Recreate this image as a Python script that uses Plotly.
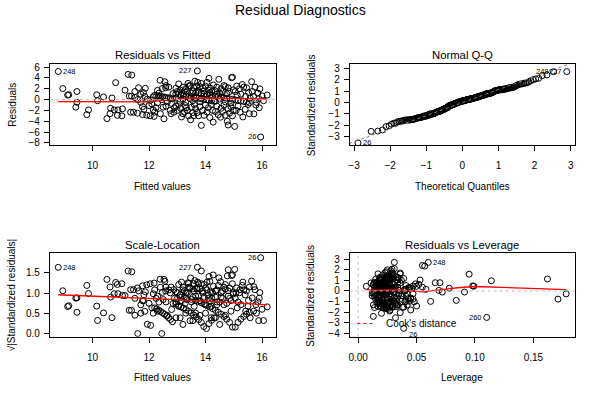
import math
import statistics
import plotly.graph_objects as go

# ---------------- data (case order 1..260) ----------------
fitted = [
    8.95, 9.12, 9.16, 9.45, 9.45, 9.41, 9.80, 9.86, 10.15, 10.18,
    10.39, 10.51, 10.64, 10.62, 10.69, 10.82, 10.77, 10.90, 10.88, 11.04,
    11.15, 11.26, 11.39, 11.30, 11.38, 15.95, 11.50, 11.63, 11.35, 11.45,
    11.59, 11.50, 11.71, 11.80, 11.87, 11.71, 11.77, 11.82, 11.77, 11.92,
    12.04, 12.18, 11.94, 11.06, 11.60, 11.85, 12.06, 12.00, 12.10, 12.15,
    12.20, 12.25, 12.30, 12.39, 12.47, 12.56, 12.59, 12.53, 12.35, 12.45,
    12.50, 12.60, 12.65, 12.70, 12.75, 12.80, 12.85, 12.88, 12.60, 12.40,
    12.90, 12.78, 12.30, 12.15, 12.20, 12.27, 12.34, 12.41, 12.48, 12.55,
    12.62, 12.69, 12.76, 12.83, 12.95, 13.04, 13.13, 13.22, 13.31, 13.40,
    13.49, 13.58, 12.95, 13.00, 13.05, 13.10, 13.15, 13.20, 13.25, 13.30,
    13.35, 13.38, 13.42, 13.45, 13.50, 13.55, 13.58, 12.95, 13.10, 13.20,
    13.30, 13.45, 13.55, 12.95, 13.00, 13.05, 13.12, 13.20, 13.28, 13.35,
    13.40, 13.47, 13.50, 13.55, 13.60, 13.32, 13.15, 13.58, 13.25, 13.67,
    13.76, 13.85, 13.94, 14.03, 14.12, 14.21, 14.30, 13.65, 13.75, 13.85,
    13.95, 14.05, 14.15, 14.25, 13.62, 13.72, 13.68, 13.80, 13.85, 13.90,
    13.95, 14.00, 14.05, 14.10, 14.12, 14.18, 14.22, 14.28, 13.75, 14.15,
    13.65, 13.80, 14.00, 14.20, 13.65, 13.70, 13.75, 13.85, 13.80, 13.90,
    13.95, 14.00, 14.05, 14.10, 14.15, 14.20, 14.27, 14.25, 14.35, 14.45,
    14.55, 14.65, 14.75, 14.85, 14.95, 14.35, 14.40, 14.47, 14.50, 14.55,
    14.60, 14.65, 14.70, 14.75, 14.80, 14.85, 14.92, 14.95, 14.98, 14.40,
    14.35, 14.50, 14.70, 14.90, 14.35, 14.40, 14.45, 14.53, 14.55, 14.60,
    14.65, 14.70, 14.77, 14.80, 14.85, 14.90, 14.95, 14.98, 15.05, 15.15,
    15.25, 15.35, 15.45, 15.55, 15.03, 15.05, 13.71, 15.10, 15.12, 15.15,
    15.20, 15.22, 15.25, 15.30, 15.32, 15.35, 15.40, 15.42, 15.45, 15.50,
    15.52, 15.55, 15.58, 15.08, 15.63, 15.65, 15.70, 8.79, 15.71, 15.75,
    15.80, 15.85, 15.88, 15.90, 16.00, 16.05, 16.18, 15.78, 15.92, 14.80,
]

residuals = [
    2.05, 0.85, 0.90, 1.50, -0.50, -1.40, -2.76, -1.90, 0.90, -0.20,
    0.50, -3.50, -1.60, -2.60, 0.30, 3.14, -1.90, -1.90, -2.90, -3.00,
    1.74, 4.66, 4.54, 0.65, 0.65, -6.90, 1.50, 2.20, -2.33, -2.33,
    -2.50, 0.40, 1.00, 1.30, 2.10, -0.50, -1.30, -1.80, -2.76, -2.88,
    -3.00, -3.10, 0.10, -1.70, 0.00, 0.60, -0.08, -1.10, -0.80, -1.90,
    -2.30, -1.50, -0.60, 3.57, 2.05, 3.30, 2.20, -3.55, 1.20, 0.00,
    -1.40, -1.20, -0.40, 2.30, -2.00, -0.70, 1.10, -2.33, 2.60, -2.60,
    -1.50, -2.60, 1.70, 0.50, 0.80, 0.73, 0.66, 0.59, 0.52, 0.45,
    0.38, 0.31, 0.24, 0.17, 1.05, 0.96, 0.87, 0.78, 0.69, 0.60,
    0.51, 0.42, 2.10, 1.50, 2.90, 1.80, 1.30, 2.30, 1.60, 2.00,
    1.40, 3.00, 2.60, 2.50, 1.20, 1.60, 2.20, 0.30, -0.30, 0.10,
    -0.50, 0.20, -0.20, -1.20, -2.00, -0.90, -1.60, -2.60, -1.10, -2.00,
    -3.00, -3.73, -1.40, -2.40, -0.90, -1.50, -3.20, -3.00, -2.20, 0.33,
    0.24, 0.15, 0.06, -0.03, -0.12, -0.21, -0.30, 1.35, 1.25, 1.15,
    1.05, 0.95, 0.85, 0.75, 3.40, 3.20, 2.50, 2.40, 3.00, 2.20,
    1.60, 2.50, 3.20, 1.80, 3.93, 2.10, 1.50, 2.70, 1.70, 1.30,
    0.50, -0.40, 0.50, 0.30, -1.70, -2.40, -3.00, -4.76, -1.30, -2.00,
    -2.90, -1.00, -2.30, -1.50, -3.30, -0.90, -4.16, -2.00, 0.65, 0.55,
    0.45, 0.35, 0.25, 0.15, 0.05, 1.60, 2.30, 3.75, 1.20, 2.00,
    1.50, 2.60, 2.40, 1.10, 2.20, 1.50, 4.05, 4.15, 1.80, 1.00,
    -0.30, 0.10, -0.40, -0.60, -2.20, -1.20, -2.80, -3.25, -1.60, -2.20,
    -1.00, -2.90, -4.00, -1.70, -2.50, -1.30, -3.00, -2.00, -0.05, -0.15,
    -0.25, -0.35, -0.45, -0.55, -4.95, 1.50, 5.30, 2.50, 0.80, -1.20,
    2.00, -2.33, 1.00, 2.80, -3.20, 2.30, -1.80, 0.60, 2.20, -0.90,
    1.30, -2.60, 0.30, -2.00, 3.32, 1.50, 0.60, 5.20, -2.64, 2.30,
    -0.50, 1.20, 0.20, -1.50, 0.70, -0.20, 0.85, -1.00, 2.00, -4.70,
]

leverage = [
    0.162, 0.099, 0.098, 0.070, 0.178, 0.171, 0.050, 0.062, 0.047, 0.091,
    0.078, 0.045, 0.038, 0.042, 0.058, 0.036, 0.044, 0.041, 0.033, 0.029,
    0.026, 0.055, 0.057, 0.034, 0.031, 0.039, 0.024, 0.028, 0.022, 0.019,
    0.032, 0.046, 0.021, 0.018, 0.027, 0.035, 0.025, 0.030, 0.023, 0.017,
    0.020, 0.014, 0.069, 0.084, 0.040, 0.016, 0.022, 0.028, 0.019, 0.033,
    0.026, 0.015, 0.021, 0.024, 0.018, 0.029, 0.020, 0.027, 0.013, 0.023,
    0.017, 0.031, 0.012, 0.025, 0.019, 0.022, 0.016, 0.024, 0.030, 0.013,
    0.021, 0.034, 0.018, 0.028, 0.015, 0.020, 0.025, 0.017, 0.022, 0.019,
    0.027, 0.014, 0.021, 0.018, 0.023, 0.018, 0.007, 0.021, 0.026, 0.015,
    0.029, 0.019, 0.024, 0.011, 0.030, 0.017, 0.022, 0.027, 0.014, 0.033,
    0.020, 0.095, 0.025, 0.018, 0.031, 0.016, 0.023, 0.028, 0.013, 0.021,
    0.035, 0.019, 0.024, 0.017, 0.026, 0.012, 0.029, 0.022, 0.018, 0.040,
    0.038, 0.027, 0.043, 0.020, 0.015, 0.047, 0.024, 0.039, 0.016, 0.021,
    0.016, 0.025, 0.019, 0.028, 0.014, 0.022, 0.031, 0.018, 0.024, 0.013,
    0.027, 0.020, 0.016, 0.032, 0.023, 0.030, 0.019, 0.026, 0.021, 0.015,
    0.034, 0.028, 0.017, 0.022, 0.025, 0.019, 0.036, 0.024, 0.018, 0.029,
    0.044, 0.020, 0.026, 0.041, 0.017, 0.023, 0.030, 0.013, 0.025, 0.019,
    0.027, 0.014, 0.032, 0.021, 0.024, 0.037, 0.020, 0.018, 0.022, 0.017,
    0.026, 0.020, 0.029, 0.023, 0.018, 0.027, 0.019, 0.028, 0.021, 0.033,
    0.016, 0.024, 0.030, 0.019, 0.025, 0.014, 0.029, 0.031, 0.114, 0.023,
    0.018, 0.035, 0.024, 0.042, 0.021, 0.028, 0.019, 0.026, 0.032, 0.017,
    0.022, 0.027, 0.036, 0.020, 0.029, 0.045, 0.024, 0.048, 0.026, 0.021,
    0.030, 0.024, 0.033, 0.027, 0.032, 0.023, 0.031, 0.034, 0.019, 0.028,
    0.037, 0.025, 0.041, 0.029, 0.022, 0.035, 0.031, 0.044, 0.026, 0.038,
    0.049, 0.033, 0.040, 0.027, 0.036, 0.066, 0.043, 0.060, 0.030, 0.039,
    0.047, 0.052, 0.034, 0.045, 0.055, 0.072, 0.050, 0.041, 0.053, 0.110,
]

residual_se = 2.0
n_id = 3

# smoother curves
smooth_rf_x = [8.79, 9.5, 10.5, 11.5, 11.9, 12.4, 12.9, 13.4, 13.9, 14.5, 15.0, 15.5, 16.18]
smooth_rf_y = [-0.38, -0.40, -0.43, -0.45, -0.42, -0.20, 0.10, 0.28, 0.30, 0.22, 0.17, 0.12, 0.12]
smooth_sl_x = [8.79, 10.0, 11.0, 12.0, 13.0, 14.0, 15.0, 16.18]
smooth_sl_y = [0.96, 0.93, 0.90, 0.87, 0.84, 0.80, 0.76, 0.71]
smooth_lv_x = [0.007, 0.015, 0.025, 0.035, 0.045, 0.055, 0.070, 0.085, 0.100, 0.120, 0.150, 0.178]
smooth_lv_y = [0.12, 0.05, 0.08, 0.10, 0.00, -0.08, 0.10, 0.30, 0.42, 0.35, 0.22, 0.13]

# tick values / labels
rf_xticks = [10, 12, 14, 16]
rf_yticks = [-8, -6, -4, -2, 0, 2, 4, 6]
qq_ticks = [-3, -2, -1, 0, 1, 2, 3]
sl_yticks = [0.0, 0.5, 1.0, 1.5]
sl_ylabels = ["0.0", "0.5", "1.0", "1.5"]
lv_xticks = [0.0, 0.05, 0.10, 0.15]
lv_xlabels = ["0.00", "0.05", "0.10", "0.15"]
lv_yticks = [-4, -3, -2, -1, 0, 1, 2, 3]

assert len(fitted) == len(residuals) == len(leverage)
n = len(fitted)

# ---------------- derived quantities ----------------
std_res = [r / (residual_se * math.sqrt(1 - h)) for r, h in zip(residuals, leverage)]
sqrt_abs = [math.sqrt(abs(s)) for s in std_res]
cooks = [s * s * h / (1 - h) for s, h in zip(std_res, leverage)]

order = sorted(range(n), key=lambda i: std_res[i])
nd = statistics.NormalDist()
theo = [0.0] * n
for rank, i in enumerate(order):
    theo[i] = nd.inv_cdf((rank + 1 - 0.5) / n)

def top(vals):
    return sorted(range(n), key=lambda i: -abs(vals[i]))[:n_id]

id_rf = top(residuals)
id_rs = top(std_res)
id_cook = top(cooks)

q_sorted = sorted(std_res)
def quant(v, p):
    k = (len(v) - 1) * p
    lo = int(math.floor(k)); hi = min(lo + 1, len(v) - 1)
    return v[lo] + (v[hi] - v[lo]) * (k - lo)
y1, y2 = quant(q_sorted, 0.25), quant(q_sorted, 0.75)
x1, x2 = nd.inv_cdf(0.25), nd.inv_cdf(0.75)
qq_slope = (y2 - y1) / (x2 - x1)
qq_int = y1 - qq_slope * x1

# ---------------- figure ----------------
W, H = 600, 400
FONT = "Liberation Sans, Arial, Helvetica, sans-serif"
GRAY = "#BEBEBE"
fig = go.Figure()

mk = dict(symbol="circle-open", size=6, color="black", line=dict(width=1, color="black"))

def pts(x, y, ax):
    fig.add_trace(go.Scatter(x=x, y=y, mode="markers", marker=mk, xaxis="x" + ax, yaxis="y" + ax,
                             showlegend=False, hoverinfo="skip"))

def line(x, y, ax, color="red", dash="solid", width=1.3):
    fig.add_trace(go.Scatter(x=x, y=y, mode="lines", line=dict(color=color, width=width, dash=dash),
                             xaxis="x" + ax, yaxis="y" + ax, showlegend=False, hoverinfo="skip"))

pts(fitted, residuals, "")
line(smooth_rf_x, smooth_rf_y, "")
pts(theo, std_res, "2")
pts(fitted, sqrt_abs, "3")
line(smooth_sl_x, smooth_sl_y, "3")
pts(leverage, std_res, "4")
line(smooth_lv_x, smooth_lv_y, "4")

ranges = {
    "": ([8.494, 16.476], [-8.42, 6.6]),
    "2": ([-3.12, 3.12], [-3.72, 3.36]),
    "3": ([8.494, 16.476], [-0.08, 1.99]),
    "4": ([-0.0072, 0.1856], [-4.31, 3.56]),
}
px_x = {"": (49, 275), "2": (349.3, 575), "3": (49, 275), "4": (349.3, 575)}
px_y = {"": (62.7, 145), "2": (62.7, 145), "3": (254.3, 339), "4": (254.3, 339)}

qq_x = ranges["2"][0]
line(qq_x, [qq_int + qq_slope * v for v in qq_x], "2", color="gray", dash="dot", width=1)

tickfont = dict(family=FONT, size=10, color="black")
axcommon = dict(showline=True, linecolor="black", linewidth=1, mirror=True, ticks="outside",
                ticklen=5, tickwidth=1, tickcolor="black", showgrid=False, zeroline=False,
                tickfont=tickfont, fixedrange=True)

ticks = {
    "": (dict(tickvals=rf_xticks), dict(tickvals=rf_yticks)),
    "2": (dict(tickvals=qq_ticks), dict(tickvals=qq_ticks)),
    "3": (dict(tickvals=rf_xticks), dict(tickvals=sl_yticks, ticktext=sl_ylabels)),
    "4": (dict(tickvals=lv_xticks, ticktext=lv_xlabels), dict(tickvals=lv_yticks)),
}

layout = {}
for ax in ["", "2", "3", "4"]:
    xr, yr = ranges[ax]
    xa = dict(axcommon, range=xr, domain=[px_x[ax][0] / W, px_x[ax][1] / W],
              anchor="y" + ax, tickmode="array", ticklabelstandoff=6, **ticks[ax][0])
    ya = dict(axcommon, range=yr, domain=[1 - px_y[ax][1] / H, 1 - px_y[ax][0] / H],
              anchor="x" + ax, tickmode="array", ticklabelstandoff=2, **ticks[ax][1])
    layout["xaxis" + ax] = xa
    layout["yaxis" + ax] = ya

shapes = [
    dict(type="line", xref="x domain", x0=0, x1=1, yref="y", y0=0, y1=0,
         line=dict(color=GRAY, width=1, dash="dot")),
    dict(type="line", xref="x4 domain", x0=0, x1=1, yref="y4", y0=0, y1=0,
         line=dict(color=GRAY, width=1, dash="dot")),
    dict(type="line", xref="x4", x0=0, x1=0, yref="y4 domain", y0=0, y1=1,
         line=dict(color=GRAY, width=1, dash="dot")),
    dict(type="line", xref="paper", yref="paper", x0=357 / W, x1=372 / W,
         y0=1 - 325.5 / H, y1=1 - 325.5 / H, line=dict(color="red", width=1, dash="3px,3px")),
]

ann = []
def text_px(t, x, y, size, angle=0):
    ann.append(dict(text=t, x=x / W, y=1 - y / H, xref="paper", yref="paper", showarrow=False,
                    font=dict(family=FONT, size=size, color="black"), textangle=angle,
                    xanchor="center", yanchor="middle"))

text_px("Residual Diagnostics", 300, 8, 14)
text_px("Residuals vs Fitted", 162, 53.3, 11.3)
text_px("Normal Q-Q", 462, 53.3, 11.3)
text_px("Scale-Location", 162, 246, 11.3)
text_px("Residuals vs Leverage", 462, 246, 11.3)
text_px("Fitted values", 162, 187, 10)
text_px("Theoretical Quantiles", 462, 187, 10)
text_px("Fitted values", 162, 380, 10)
text_px("Leverage", 462, 380.5, 10)
text_px("Residuals", 12, 104, 10, -90)
text_px("Standardized residuals", 311, 104, 10, -90)
text_px("√|Standardized residuals|", 10, 297, 10, -90)
text_px("Standardized residuals", 310, 297, 10, -90)
ann.append(dict(text="Cook's distance", x=384 / W, y=1 - 325.5 / H, xref="paper", yref="paper",
                showarrow=False, xanchor="left", yanchor="middle",
                font=dict(family=FONT, size=10, color="black")))

def id_labels(xs, ys, idx, ax, yshift_for=None):
    lo, hi = min(xs), max(xs)
    mid = (lo + hi) / 2
    for i in idx:
        right = xs[i] <= mid
        ys_px = -6 if (yshift_for is not None and i == yshift_for) else 0
        ann.append(dict(text=str(i + 1), x=xs[i], y=ys[i], xref="x" + ax, yref="y" + ax,
                        showarrow=False, xanchor="left" if right else "right", yanchor="middle",
                        xshift=3 if right else -3, yshift=ys_px,
                        font=dict(family=FONT, size=7.5, color="black")))

id_labels(fitted, residuals, id_rf, "")
id_labels(theo, std_res, id_rs, "2")
id_labels(fitted, sqrt_abs, id_rs, "3")
id_labels(leverage, std_res, id_cook, "4", yshift_for=min(range(n), key=lambda i: std_res[i]))

fig.update_layout(width=W, height=H, margin=dict(l=0, r=0, t=0, b=0), autosize=False,
                  paper_bgcolor="white", plot_bgcolor="white", showlegend=False,
                  shapes=shapes, annotations=ann, **layout)

fig.write_html("out.html", config={"displayModeBar": False},
               post_script="document.body.style.margin='0';document.body.style.padding='0';")
